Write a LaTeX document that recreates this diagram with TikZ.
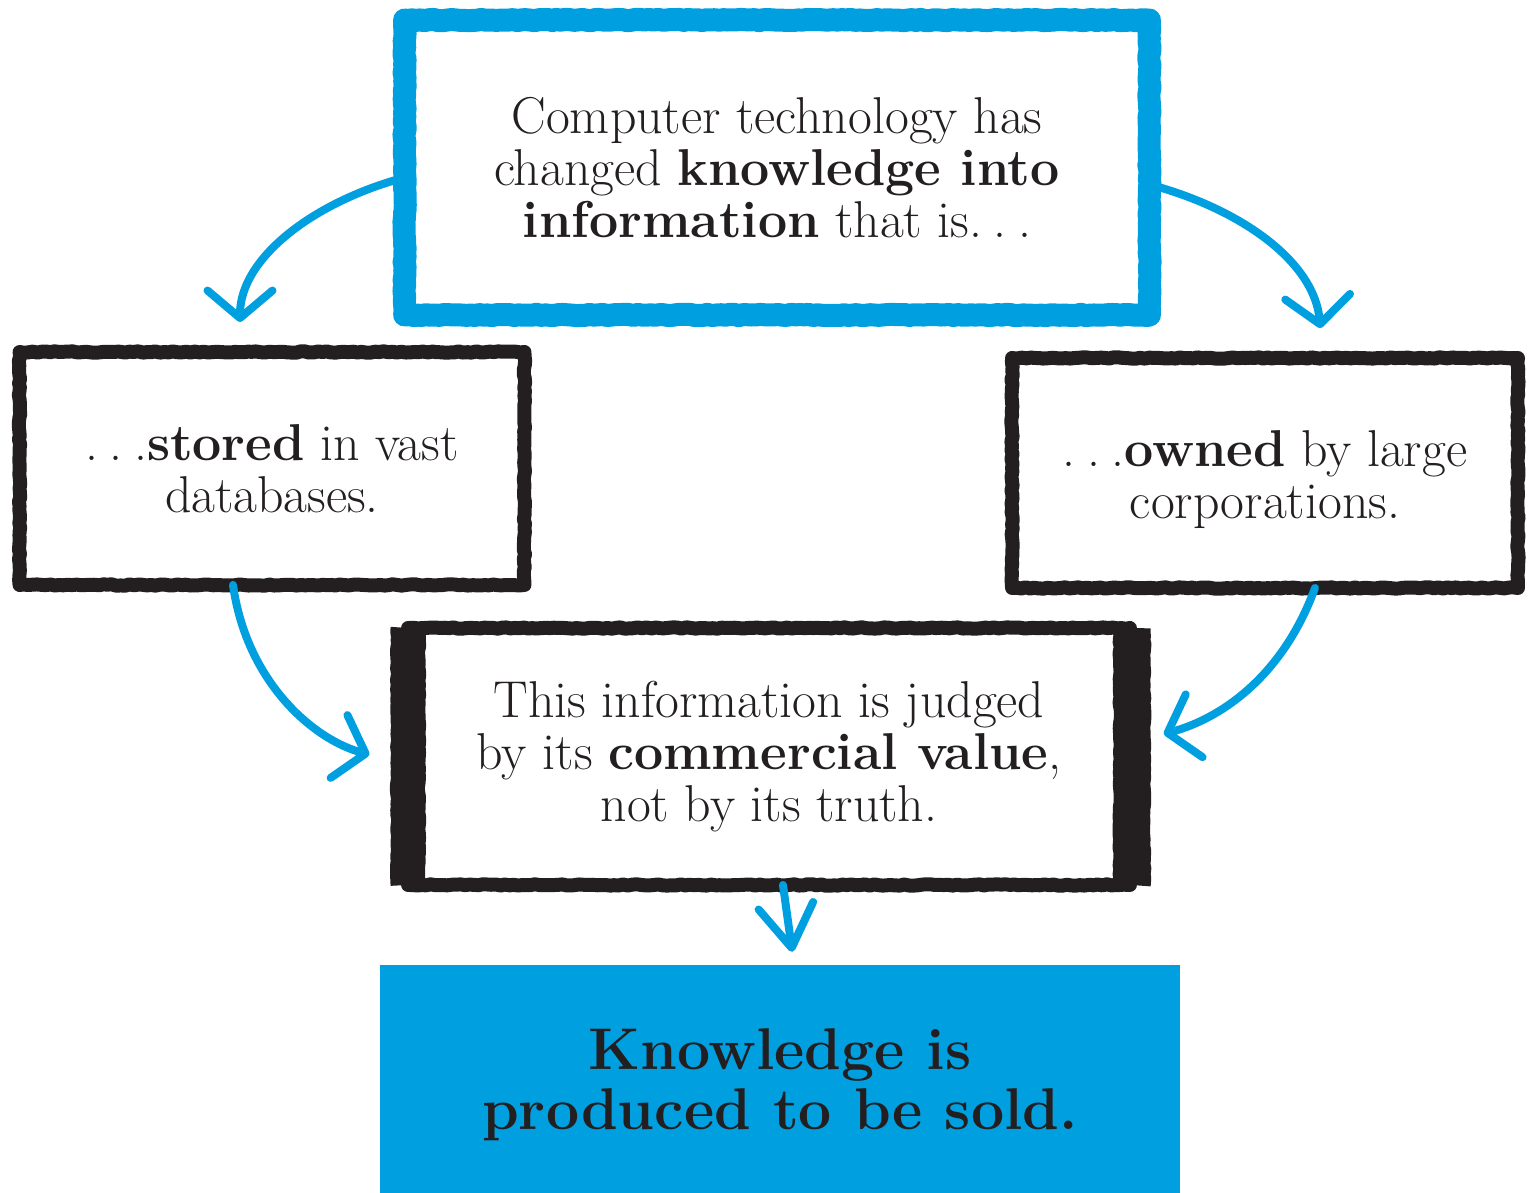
\documentclass[tikz,border=0pt]{standalone}
\usetikzlibrary{arrows.meta, decorations.pathmorphing}
\definecolor{crayon}{RGB}{0,160,224}
\definecolor{ink}{RGB}{35,31,32}
\newcommand\trail{.\kern.22em.\kern.22em.}

\begin{document}
\begin{tikzpicture}[x=0.02cm, y=0.02cm, line join=round,
  rough/.style = {decorate, decoration={random steps, segment length=2.5pt, amplitude=0.4pt}},
  box/.style = {draw=ink, text=ink, rough, line width=0.28cm, outer sep=0pt, align=center, font=\fontsize{29.5}{29.6}\selectfont},
  flow/.style = {crayon, line width=0.16cm, line cap=round, -{Straight Barb[length=0.55cm, width=1.3cm, round]}}]
\useasboundingbox (0,0) rectangle (1536,1193);

\node[box, draw=crayon, line width=0.46cm, minimum width=14.9cm, minimum height=5.9cm] (top) at (777,1025.5) {Computer technology has\\changed \textbf{knowledge into}\\\textbf{information} that is\trail};
\node[box, minimum width=10.1cm, minimum height=4.66cm] (stored) at (272,724.5) {\trail\textbf{stored} in vast\\databases.};
\node[box, minimum width=10.12cm, minimum height=4.6cm] (owned) at (1265,720) {\rule{0pt}{28pt}\trail\textbf{owned} by large\\corporations.};
\node[box, minimum width=14.44cm, minimum height=5.14cm] (judged) at (769,436.5) {This information is judged\\by its \textbf{commercial value},\\not by its truth.};
\draw[ink, rough, line width=0.7cm] (judged.north west) -- (judged.south west);
\draw[ink, rough, line width=0.75cm] ([xshift=0.04cm]judged.north east) -- ([xshift=0.04cm]judged.south east);
\node[fill=crayon, text=ink, minimum width=16cm, minimum height=4.56cm, align=center, font=\bfseries\fontsize{33.5}{34}\selectfont] (sold) at (780,114) {\rule{0pt}{30pt}Knowledge is\\produced to be sold.};

\draw[flow, shorten >=0.6cm] ([yshift=-0.2cm]top.west) to[out=195, in=90] ([xshift=-0.64cm]stored.north);
\draw[flow, shorten >=0.6cm] ([yshift=-0.34cm]top.east) to[out=-15, in=95] ([xshift=1.16cm]owned.north);
\draw[flow, shorten >=0.8cm] ([xshift=-0.78cm]stored.south) to[out=-82, in=165] ([yshift=-0.17cm]judged.west);
\draw[flow, shorten >=0.7cm] ([xshift=1cm]owned.south) to[out=-110, in=15] ([yshift=0.27cm]judged.east);
\draw[flow, -{Straight Barb[length=0.85cm, width=1.1cm, round]}, shorten >=0.26cm] ([xshift=0.28cm]judged.south) -- ([xshift=0.28cm]sold.north);
\end{tikzpicture}
\end{document}
